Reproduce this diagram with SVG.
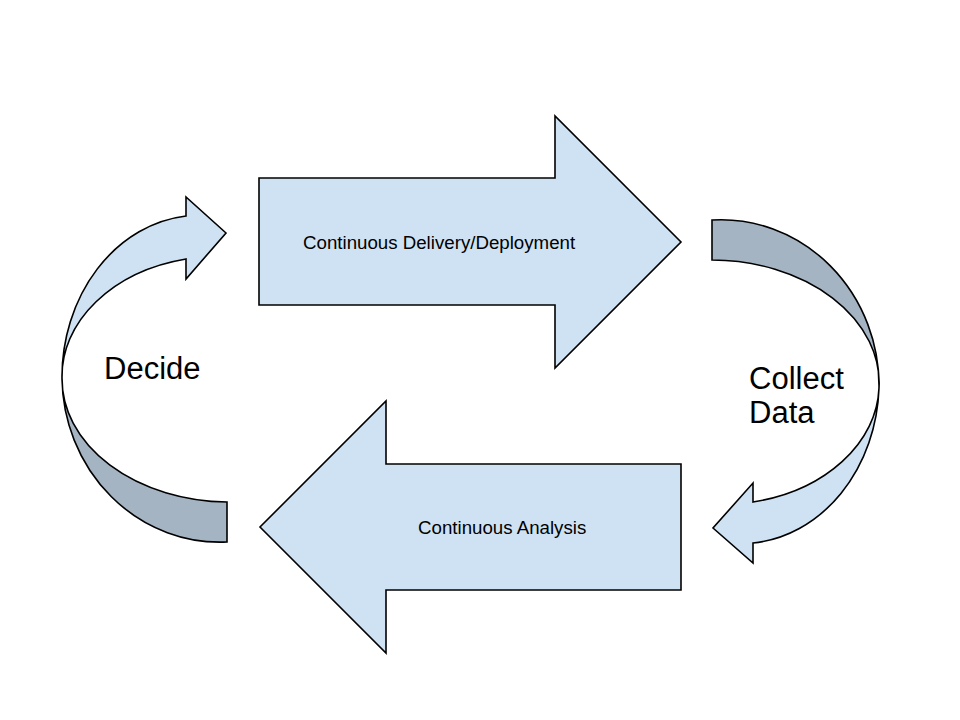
<svg xmlns="http://www.w3.org/2000/svg" width="960" height="720" viewBox="0 0 960 720">
<style>
.light{fill:#cfe2f3;stroke:#000;stroke-width:1.6;stroke-linejoin:miter}
.dark{fill:#a5b4c3;stroke:#000;stroke-width:1.6;stroke-linejoin:miter}
.t{font-family:"Liberation Sans",Arial,sans-serif;fill:#000}
.s{font-size:18.7px}
.b{font-size:31px}
</style>
<rect width="960" height="720" fill="#fff"/>
<g id="delivery">
<path class="light" d="M259,178 L555,178 L555,116 L681,242 L555,368 L555,305 L259,305 Z"/>
<text class="t s" x="303" y="249">Continuous Delivery/Deployment</text>
</g>
<g id="analysis">
<path class="light" d="M681,464 L386,464 L386,401 L260,527 L386,653 L386,590 L681,590 Z"/>
<text class="t s" x="418" y="534">Continuous Analysis</text>
</g>
<g id="connectors">
<g id="decide-arrow">
<path class="dark" d="M62,378 A158,166 0 0 0 227,542 L227,502 A168,123 0 0 1 62,378 Z"/>
<path class="light" d="M186,216 A138,162 0 0 0 62,378 A158,120 0 0 1 186,259 L186,279 L226,233 L186,197 Z"/>
</g>
<g id="collect-arrow">
<path class="dark" d="M712,220 A158,166 0 0 1 879,388 A168,123 0 0 0 712,260 Z"/>
<path class="light" d="M879,388 A138,162 0 0 1 753,543 L753,563 L713,528 L753,483 L753,502 A158,120 0 0 0 879,388 Z"/>
</g>
</g>
<g id="decide">
<text class="t b" x="104" y="379">Decide</text>
</g>
<g id="collect">
<text class="t b" x="749" y="389">Collect</text>
<text class="t b" x="749" y="423">Data</text>
</g>
</svg>
